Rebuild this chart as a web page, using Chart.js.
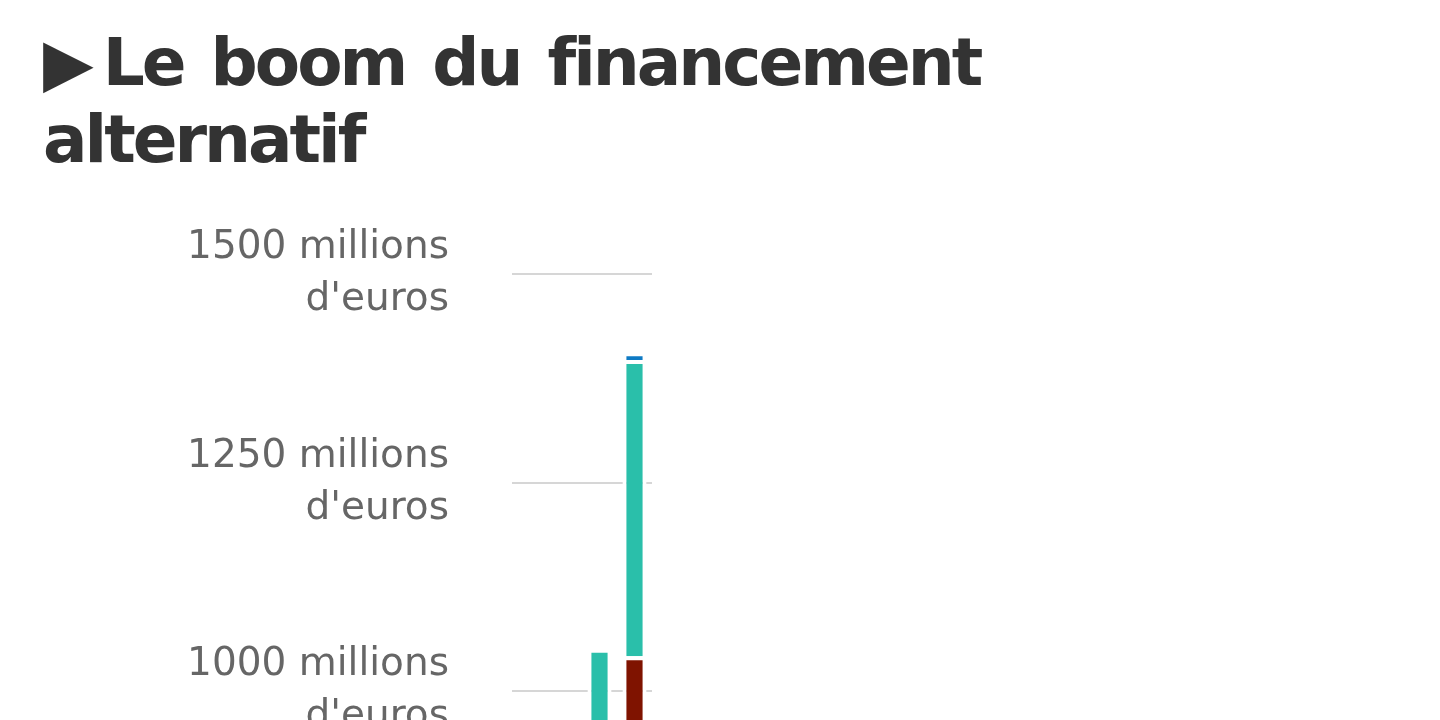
<!DOCTYPE html>
<html>
<head>
<meta charset="utf-8">
<script src="https://cdn.jsdelivr.net/npm/chart.js@4"></script>
<style>
    html, body {
        margin: 0;
        width: 1440px;
        height: 720px;
        overflow: hidden;
        background: #fff;
    }
    h1 {
        position: absolute;
        left: 43px;
        top: 24px;
        width: 1000px;
        margin: 0;
        font-family: "DejaVu Sans", sans-serif;
        font-weight: bold;
        font-size: 66px;
        line-height: 77px;
        letter-spacing: -3px;
        word-spacing: 7px;
        font-variant-ligatures: none;
        color: #333;
    }
    h1 .arrow {
        margin-right: 12px;
    }
    #chart-box {
        position: absolute;
        left: 0;
        top: 159px;
    }
</style>
</head>
<body>
<h1><span class="arrow">▶</span>Le boom du financement alternatif</h1>
<div id="chart-box">
    <canvas id="chart" width="700" height="1487"></canvas>
</div>

<script>
// années et montants (millions d'euros)
const years = ["2012", "2013", "2014", "2015"];
const loans_business = [110, 280, 620, 1042];
const loans_people = [40, 150, 431, 355];
const others = [null, null, null, 9];

const y_ticks = [0, 250, 500, 750, 1000, 1250, 1500];

const font_name = "'DejaVu Sans', sans-serif";

function make_dataset(label, data, color) {
    return {
        label: label,
        data: data,
        backgroundColor: color,
        borderColor: "#ffffff",
        borderWidth: 4,
        barPercentage: 0.69,
        categoryPercentage: 1
    };
}

const chart = new Chart(document.getElementById("chart"), {
    type: "bar",
    data: {
        labels: years,
        datasets: [
            make_dataset("Prêts aux entreprises", loans_business, "#7f1300"),
            make_dataset("Prêts aux particuliers", loans_people, "#2abfaa"),
            make_dataset("Autres", others, "#0e7ac4")
        ]
    },
    options: {
        responsive: false,
        animation: false,
        layout: {
            padding: {top: 33, right: 48, left: 0, bottom: 0}
        },
        plugins: {
            legend: {display: false},
            tooltip: {enabled: false}
        },
        scales: {
            x: {
                stacked: true,
                grid: {display: false},
                border: {display: false},
                ticks: {
                    color: "#666",
                    font: {family: font_name, size: 39}
                }
            },
            y: {
                stacked: true,
                min: 0,
                max: 1500,
                afterBuildTicks: (scale) => {
                    scale.ticks = y_ticks.map(v => ({value: v}));
                },
                afterFit: (scale) => {
                    scale.width = 512;
                },
                grid: {
                    color: "#d6d6d6",
                    lineWidth: 2,
                    drawTicks: false
                },
                border: {display: false},
                ticks: {
                    padding: 63,
                    color: "#666",
                    font: {family: font_name, size: 39, lineHeight: 1.333},
                    callback: (value) => [value + " millions", "d'euros"]
                }
            }
        }
    }
});
</script>
</body>
</html>
